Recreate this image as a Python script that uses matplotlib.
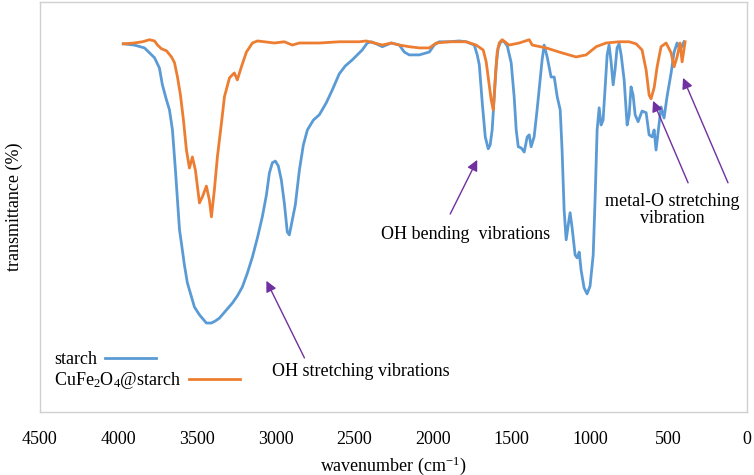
import matplotlib
matplotlib.use("Agg")
import matplotlib.pyplot as plt

plt.rcParams['font.family'] = ['Liberation Serif', 'DejaVu Serif']
plt.rcParams['mathtext.fontset'] = 'custom'
plt.rcParams['mathtext.rm'] = 'Liberation Serif'
plt.rcParams['mathtext.it'] = 'Liberation Serif:italic'

# starch spectrum (wavenumber, transmittance)
starch_wn = [3970, 3900, 3835, 3803, 3771, 3740, 3721, 3695, 3676, 3657, 3638, 3625, 3612, 3600,
             3581, 3562, 3536, 3517, 3485, 3441, 3409, 3384, 3358, 3320, 3275, 3244, 3212, 3180,
             3148, 3116, 3085, 3059, 3040, 3021, 3002, 2983, 2964, 2945, 2926, 2913, 2894, 2875,
             2849, 2824, 2798, 2760, 2722, 2678, 2639, 2595, 2557, 2512, 2480, 2449, 2417, 2391,
             2360, 2321, 2296, 2264, 2213, 2181, 2150, 2086, 2022, 1991, 1959, 1895, 1832, 1787,
             1736, 1717, 1704, 1685, 1666, 1647, 1635, 1622, 1609, 1596, 1584, 1565, 1545, 1526,
             1501, 1482, 1469, 1456, 1437, 1418, 1399, 1386, 1374, 1355, 1336, 1317, 1304, 1291,
             1272, 1247, 1227, 1208, 1189, 1177, 1164, 1151, 1138, 1126, 1113, 1094, 1081, 1068,
             1056, 1037, 1018, 999, 979, 967, 954, 941, 929, 916, 903, 890, 878, 865, 852, 840,
             827, 814, 801, 782, 763, 750, 738, 725, 712, 693, 668, 642, 623, 604, 591, 579, 566,
             547, 528, 509, 483, 464, 445, 426, 401]
starch_t = [89.8, 89.5, 88.8, 87.6, 86.4, 83.9, 79.8, 76.1, 73.7, 68.8, 59.0, 51.7, 44.4, 41.2,
            35.9, 31.5, 28.1, 25.6, 23.7, 21.7, 21.7, 22.2, 22.9, 24.6, 26.6, 28.3, 30.5, 33.9,
            37.8, 42.5, 47.6, 52.9, 58.3, 60.8, 61.2, 60.0, 56.6, 51.0, 43.9, 43.2, 46.8, 50.5,
            59.0, 65.1, 68.8, 71.2, 72.5, 75.4, 78.6, 82.5, 84.4, 85.9, 87.1, 88.3, 90.0, 90.3,
            89.8, 89.1, 89.5, 90.0, 89.5, 87.8, 87.1, 87.1, 87.8, 89.5, 90.3, 90.3, 90.5, 90.3,
            89.5, 87.1, 84.7, 75.4, 67.1, 64.2, 65.1, 68.8, 76.9, 84.7, 88.8, 90.5, 90.3, 89.3,
            85.2, 76.9, 68.8, 64.7, 64.4, 63.4, 67.1, 67.6, 64.7, 67.1, 73.7, 81.0, 85.9, 89.5,
            86.6, 81.7, 81.7, 76.9, 73.7, 63.9, 49.3, 42.0, 45.6, 48.6, 44.9, 38.3, 37.6, 39.0,
            34.6, 30.3, 28.8, 30.7, 38.3, 51.7, 68.8, 74.2, 70.0, 71.2, 79.3, 87.1, 89.5, 85.4,
            79.8, 83.4, 88.8, 89.8, 87.1, 81.0, 70.0, 72.5, 79.3, 77.3, 72.5, 70.8, 73.4, 73.0,
            67.6, 67.1, 68.8, 63.9, 68.1, 74.4, 71.7, 76.9, 82.7, 87.8, 90.0, 88.3, 90.3]

# CuFe2O4@starch spectrum
cufe_wn = [3970, 3900, 3848, 3803, 3771, 3752, 3727, 3695, 3663, 3644, 3625, 3606, 3587, 3568,
           3549, 3530, 3511, 3485, 3466, 3441, 3422, 3409, 3390, 3371, 3345, 3326, 3294, 3263,
           3244, 3218, 3186, 3148, 3116, 3072, 3008, 2945, 2894, 2849, 2722, 2595, 2468, 2423,
           2372, 2321, 2264, 2213, 2150, 2086, 2022, 1978, 1895, 1787, 1724, 1679, 1660, 1641,
           1628, 1615, 1603, 1590, 1577, 1558, 1514, 1450, 1386, 1367, 1278, 1196, 1088, 1024,
           960, 897, 814, 750, 706, 668, 642, 623, 611, 591, 572, 547, 515, 483, 464, 445, 426,
           413, 394]
cufe_t = [89.8, 90.0, 90.3, 90.8, 90.5, 89.5, 88.6, 88.1, 86.6, 85.2, 81.7, 77.3, 71.2, 63.9,
          59.5, 62.2, 59.0, 51.0, 52.5, 55.1, 51.7, 47.6, 54.2, 62.2, 70.5, 76.9, 81.5, 82.7,
          81.0, 84.2, 87.8, 90.0, 90.5, 90.3, 90.0, 90.3, 89.5, 90.0, 90.0, 90.3, 90.3, 90.5,
          90.0, 89.5, 90.0, 89.5, 89.1, 88.8, 88.8, 90.0, 90.3, 90.3, 89.5, 88.3, 85.4, 79.8,
          76.1, 73.7, 81.0, 87.8, 90.0, 90.8, 89.5, 90.0, 90.8, 89.5, 88.8, 87.8, 86.6, 87.1,
          89.1, 90.0, 90.3, 90.3, 89.8, 88.3, 83.4, 77.3, 76.4, 79.1, 84.2, 89.1, 90.0, 87.6,
          84.2, 86.6, 90.0, 85.4, 90.3]

xticks = [4500, 4000, 3500, 3000, 2500, 2000, 1500, 1000, 500, 0]

blue = '#5B9BD5'
orange = '#ED7D31'
purple = '#7030A0'

fig = plt.figure(figsize=(7.54, 4.75), dpi=100)
ax = fig.add_axes([40 / 754, 63 / 475, 707 / 754, 410 / 475])

l1, = ax.plot(starch_wn, starch_t, color=blue, lw=2, label='starch')
l2, = ax.plot(cufe_wn, cufe_t, color=orange, lw=2, label='CuFe$_2$O$_4$@starch')

ax.set_xlim(4500, 0)
ax.set_ylim(0, 100)
ax.set_xticks(xticks)
ax.set_xticklabels([str(t) for t in xticks])
ax.set_yticks([])
ax.tick_params(axis='x', length=0, pad=14, labelsize=13)
for s in ax.spines.values():
    s.set_color('#D0D0D0')
    s.set_linewidth(1)

ax.set_xlabel('wavenumber (cm$^{\\mathregular{-1}}$)', fontsize=13, labelpad=4)
ax.set_ylabel('transmittance (%)', fontsize=13, labelpad=12)

# arrows and labels
arrow = dict(arrowstyle='-|>', color=purple, lw=1, mutation_scale=16, shrinkA=0, shrinkB=0)
ax.annotate('', xy=(3059, 32.0), xytext=(2817, 13.2), arrowprops=arrow)
ax.text(2455, 9.8, 'OH stretching vibrations', ha='center', va='center', fontsize=13)

ax.annotate('', xy=(1717, 61.5), xytext=(1889, 48.3), arrowprops=arrow)
ax.text(1794, 43.4, 'OH bending  vibrations', ha='center', va='center', fontsize=13)

ax.annotate('', xy=(598, 75.9), xytext=(375, 55.9), arrowprops=arrow)
ax.annotate('', xy=(407, 81.5), xytext=(121, 55.9), arrowprops=arrow)
ax.text(477, 49.3, 'metal-O stretching\nvibration', ha='center', va='center',
        fontsize=13, linespacing=1.05)

# Excel-style legend: label first, line sample right after each label
leg_kw = dict(loc='center left', frameon=False, markerfirst=False, fontsize=13,
              handlelength=2.8, handletextpad=0.45, borderpad=0, borderaxespad=0)
leg1 = ax.legend([l1], ['starch'], bbox_to_anchor=(0.02, 0.128), **leg_kw)
ax.add_artist(leg1)
ax.legend([l2], ['CuFe$_2$O$_4$@starch'], bbox_to_anchor=(0.02, 0.076), **leg_kw)

fig.savefig('out.png', dpi=100)
